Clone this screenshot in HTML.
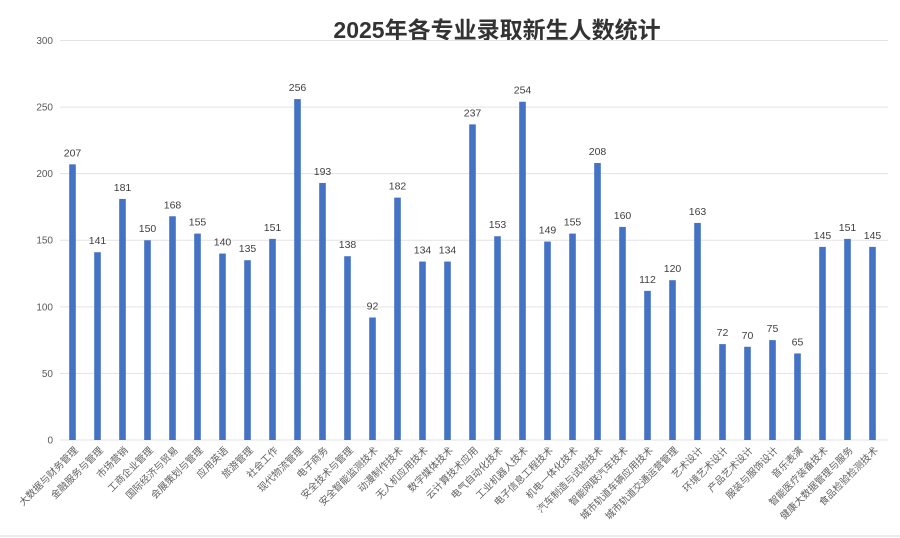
<!DOCTYPE html>
<html><head><meta charset="utf-8"><style>
html,body{margin:0;padding:0;background:#fff;}
svg{display:block;}
</style></head><body>
<svg width="900" height="538" viewBox="0 0 900 538" xmlns="http://www.w3.org/2000/svg">
<rect width="900" height="538" fill="#fff"/>
<text x="497" y="38" text-anchor="middle" font-family="'Liberation Sans','Noto Sans CJK SC',sans-serif" font-size="23" font-weight="bold" fill="#333">2025年各专业录取新生人数统计</text>
<g id="grid" stroke="#e3e3e3" stroke-width="1"></g>
<g id="ylab" font-family="'Liberation Sans',sans-serif" font-size="10" fill="#595959" text-anchor="end"></g>
<g id="bars" fill="#4472c4"></g>
<g id="vals" font-family="'Liberation Sans',sans-serif" font-size="10.5" fill="#404040" text-anchor="middle"></g>
<g id="xlab" font-family="'Liberation Sans','Noto Sans CJK SC',sans-serif" font-size="9.8" fill="#606060" text-anchor="end"></g>
<line x1="0" y1="536" x2="900" y2="536" stroke="#d9d9d9"/>
</svg>
<script>
var names=["大数据与财务管理","金融服务与管理","市场营销","工商企业管理","国际经济与贸易","会展策划与管理","应用英语","旅游管理","社会工作","现代物流管理","电子商务","安全技术与管理","安全智能监测技术","动漫制作技术","无人机应用技术","数字媒体技术","云计算技术应用","电气自动化技术","工业机器人技术","电子信息工程技术","机电一体化技术","汽车制造与试验技术","智能网联汽车技术","城市轨道车辆应用技术","城市轨道交通运营管理","艺术设计","环境艺术设计","产品艺术设计","服装与服饰设计","音乐表演","智能医疗装备技术","健康大数据管理与服务","食品检验检测技术"];
var vals=[207,141,181,150,168,155,140,135,151,256,193,138,92,182,134,134,237,153,254,149,155,208,160,112,120,163,72,70,75,65,145,151,145];
var NS="http://www.w3.org/2000/svg";
function el(p,t,a,txt){var e=document.createElementNS(NS,t);for(var k in a)e.setAttribute(k,a[k]);if(txt!=null)e.textContent=txt;document.getElementById(p).appendChild(e);}
function Y(v){return 440-v*1.3317;}
for(var v=0;v<=300;v+=50){el("grid","line",{x1:60,x2:888,y1:Y(v),y2:Y(v)});el("ylab","text",{x:53,y:Y(v)+3.5},v);}
for(var i=0;i<vals.length;i++){var cx=72.5+i*25.0;
el("bars","rect",{x:cx-3.3,y:Y(vals[i]),width:6.6,height:vals[i]*1.3317});
el("vals","text",{x:cx,y:Y(vals[i])-8},vals[i]);
el("xlab","text",{x:cx+6,y:451,transform:"rotate(-45 "+(cx+6)+" 451)"},names[i]);}
</script>
</body></html>
